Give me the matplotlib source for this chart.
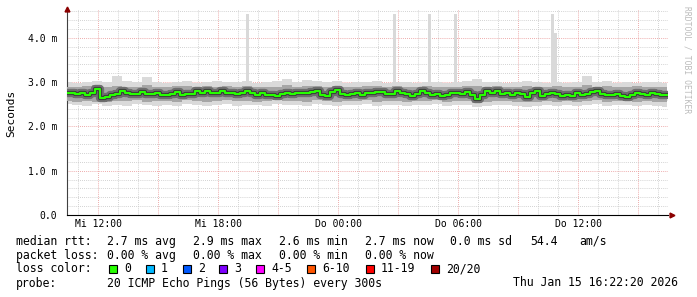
import matplotlib
matplotlib.use("Agg")
import matplotlib.pyplot as plt
import numpy as np

plt.rcParams['font.family'] = 'DejaVu Sans Mono'

# median rtt in ms, one sample every 15 min starting Mi 10:27 (hours since Mi 00:00)
median_start = 10.45
median_rtt = [
    2.76, 2.76, 2.73, 2.76, 2.71, 2.76, 2.84, 2.64, 2.67, 2.72, 2.73, 2.80, 2.76, 2.74, 2.73, 2.78,
    2.73, 2.74, 2.76, 2.72, 2.71,
    2.74, 2.78, 2.72, 2.74, 2.74, 2.80, 2.76, 2.80, 2.76, 2.75, 2.79, 2.76, 2.75, 2.73, 2.75, 2.80,
    2.76, 2.72, 2.75, 2.71,
    2.71, 2.69, 2.73, 2.76, 2.73, 2.76, 2.75, 2.76, 2.77, 2.79, 2.71, 2.69, 2.78, 2.82, 2.73, 2.70,
    2.73, 2.76, 2.71, 2.76,
    2.76, 2.77, 2.78, 2.73, 2.73, 2.79, 2.76, 2.73, 2.69, 2.73, 2.79, 2.76, 2.71, 2.73, 2.69, 2.70,
    2.75, 2.76, 2.73, 2.78,
    2.70, 2.62, 2.71, 2.79, 2.76, 2.81, 2.73, 2.76, 2.71, 2.75, 2.73, 2.67, 2.75, 2.79, 2.69, 2.73,
    2.76, 2.74, 2.68, 2.71,
    2.69, 2.76, 2.71, 2.73, 2.77, 2.80, 2.74, 2.71, 2.70, 2.73, 2.68, 2.67, 2.72, 2.76, 2.74, 2.71,
    2.75, 2.73, 2.71, 2.72,
]

# smoke envelopes, one sample every 30 min
smoke_outer_hi = [
    3.00, 2.98, 3.01, 3.02, 3.00, 3.14, 3.02, 3.00, 3.12, 3.01,
    2.99, 3.00, 3.02, 2.98, 3.00, 3.03, 3.01, 3.00, 3.02, 2.99,
    3.00, 3.02, 3.08, 3.01, 3.05, 3.03, 3.00, 3.02, 2.99, 3.01,
    3.00, 3.02, 2.99, 3.01, 3.00, 2.98, 3.00, 3.01, 2.99, 3.00,
    3.02, 3.07, 3.00, 3.01, 2.99, 3.00, 3.02, 3.00, 2.99, 3.01,
    2.98, 3.01, 3.13, 3.00, 3.02, 2.99, 3.00, 2.98, 3.00, 3.01, 2.97,
]
smoke_outer_lo = [
    2.50, 2.48, 2.47, 2.50, 2.46, 2.49, 2.47, 2.50, 2.48, 2.47,
    2.49, 2.47, 2.50, 2.48, 2.46, 2.49, 2.50, 2.47, 2.48, 2.49,
    2.47, 2.50, 2.48, 2.49, 2.47, 2.50, 2.48, 2.46, 2.49, 2.48,
    2.50, 2.47, 2.49, 2.48, 2.46, 2.49, 2.48, 2.50, 2.47, 2.49,
    2.48, 2.44, 2.47, 2.49, 2.48, 2.46, 2.44, 2.47, 2.48, 2.46,
    2.49, 2.47, 2.48, 2.50, 2.47, 2.48, 2.49, 2.47, 2.48, 2.46, 2.44,
]
smoke_inner_hi = [
    2.90, 2.88, 2.91, 2.93, 2.89, 2.92, 2.90, 2.88, 2.93, 2.90,
    2.89, 2.91, 2.92, 2.88, 2.91, 2.90, 2.92, 2.89, 2.91, 2.88,
    2.89, 2.90, 2.93, 2.90, 2.92, 2.91, 2.88, 2.92, 2.89, 2.90,
    2.91, 2.92, 2.89, 2.91, 2.90, 2.88, 2.91, 2.90, 2.88, 2.90,
    2.92, 2.91, 2.89, 2.92, 2.88, 2.90, 2.91, 2.89, 2.90, 2.92,
    2.88, 2.90, 2.93, 2.89, 2.91, 2.88, 2.90, 2.92, 2.89, 2.90, 2.88,
]
smoke_inner_lo = [
    2.58, 2.56, 2.57, 2.55, 2.56, 2.58, 2.57, 2.59, 2.56, 2.57,
    2.58, 2.56, 2.59, 2.57, 2.56, 2.58, 2.59, 2.57, 2.58, 2.56,
    2.57, 2.59, 2.57, 2.58, 2.56, 2.59, 2.57, 2.56, 2.58, 2.57,
    2.59, 2.56, 2.58, 2.57, 2.56, 2.58, 2.57, 2.59, 2.56, 2.58,
    2.57, 2.53, 2.56, 2.58, 2.57, 2.55, 2.54, 2.56, 2.57, 2.55,
    2.58, 2.56, 2.57, 2.59, 2.56, 2.57, 2.58, 2.55, 2.57, 2.55, 2.54,
]

# single high pings (hours since Mi 00:00, ms)
spike_times = [19.45, 26.8, 28.55, 29.85, 34.7, 34.85]
spike_tops = [4.54, 4.54, 4.54, 4.54, 4.53, 4.10]

tick_hours = [12, 18, 24, 30, 36]
tick_labels = ["Mi 12:00", "Mi 18:00", "Do 00:00", "Do 06:00", "Do 12:00"]

loss_labels = ["0", "1", "2", "3", "4-5", "6-10", "11-19", "20/20"]
loss_colors = ["#26ff00", "#00b8ff", "#0059ff", "#7e00ff", "#ff00ff", "#ff5500", "#ff0000", "#a10000"]

t_med = median_start + 0.25 * np.arange(len(median_rtt))
t_smoke = median_start + 0.5 * np.arange(len(smoke_outer_hi))

W, H = 697, 297
fig = plt.figure(figsize=(W / 100, H / 100), dpi=100)
ax = fig.add_axes([67 / W, 1 - 215 / H, (668 - 67) / W, (215 - 9) / H])

# smoke
ax.fill_between(t_smoke, smoke_outer_lo, smoke_outer_hi, step='mid', color='#dadada', lw=0, zorder=2)
ax.bar(spike_times, np.array(spike_tops) - 2.9, bottom=2.9, width=0.15, color='#d9d9d9', lw=0, zorder=2)
ax.fill_between(t_smoke, smoke_inner_lo, smoke_inner_hi, step='mid', color='#a6a6a6', lw=0, zorder=3)
ax.plot(t_med, median_rtt, drawstyle='steps-mid', color='#6e6e6e', lw=6, zorder=4)
ax.plot(t_med, median_rtt, drawstyle='steps-mid', color='#3c3c3c', lw=3, zorder=5)
ax.plot(t_med, median_rtt, drawstyle='steps-mid', color='#26ff00', lw=1.5, zorder=6)

ax.set_xlim(10.45, 40.5)
ax.set_ylim(0, 4.65)

# grid
ax.set_xticks(np.arange(12, 40.1, 3))
ax.set_xticks(np.arange(11, 40.6, 1), minor=True)
ax.set_yticks([0, 1, 2, 3, 4])
ax.set_yticks(np.arange(0.2, 4.65, 0.2), minor=True)
ax.grid(True, which='minor', color='#c4c4c4', lw=0.6, linestyle=(0, (1, 1.5)), zorder=1)
ax.grid(True, which='major', color='#e89090', lw=0.6, linestyle=(0, (1, 1.5)), zorder=1)
ax.set_xticklabels([])
ax.tick_params(which='both', length=0)
ax.set_yticklabels(["0.0", "1.0 m", "2.0 m", "3.0 m", "4.0 m"], fontsize=7)
ax.tick_params(axis='y', pad=7)
for h, lab in zip(tick_hours, tick_labels):
    ax.text(h, -0.2, lab, ha='center', va='center', fontsize=7)

for s in ['top', 'right']:
    ax.spines[s].set_visible(False)
ax.spines['left'].set_color('#404040')
ax.spines['bottom'].set_color('#000000')
ax.spines['left'].set_linewidth(0.8)
ax.spines['bottom'].set_linewidth(0.8)
ax.plot(0, 1, '^', color='#8b0000', ms=3.5, transform=ax.transAxes, clip_on=False, zorder=10)
ax.plot(1.006, 0, '>', color='#8b0000', ms=3.5, transform=ax.transAxes, clip_on=False, zorder=10)

fig.text(11 / W, 1 - 113 / H, "Seconds", rotation=90, ha='center', va='center', fontsize=8)
fig.text(687 / W, 1 - 60 / H, "RRDTOOL / TOBI OETIKER", rotation=-90, ha='center', va='center',
         fontsize=5.8, color='#bbbbbb')

# legend block
fs = 8.3
def line(x, y, s):
    fig.text(x / W, 1 - y / H, s, ha='left', va='center', fontsize=fs)

y1, y2, y3, y4 = 241.5, 255.5, 269, 283
line(16, y1, "median rtt:")
for x, s in zip([107, 193, 279, 365, 450, 530, 579],
                ["2.7 ms avg", "2.9 ms max", "2.6 ms min", "2.7 ms now", "0.0 ms sd", "54.4", "am/s"]):
    line(x, y1, s)
line(16, y2, "packet loss:")
for x, s in zip([107, 193, 279, 365], ["0.00 % avg", "0.00 % max", "0.00 % min", "0.00 % now"]):
    line(x, y2, s)
line(16, y3, "loss color:")
for x, lab, c in zip([109, 146, 183, 219, 256, 307, 366, 431], loss_labels, loss_colors):
    fig.patches.append(plt.Rectangle((x / W, 1 - (y3 + 4) / H), 8 / W, 8 / H, transform=fig.transFigure,
                                     facecolor=c, edgecolor='black', lw=0.8, figure=fig))
    line(x + 15, y3, lab)
line(16, y4, "probe:")
line(107, y4, "20 ICMP Echo Pings (56 Bytes) every 300s")
line(513, y4, "Thu Jan 15 16:22:20 2026")

fig.savefig("out.png", dpi=100)
